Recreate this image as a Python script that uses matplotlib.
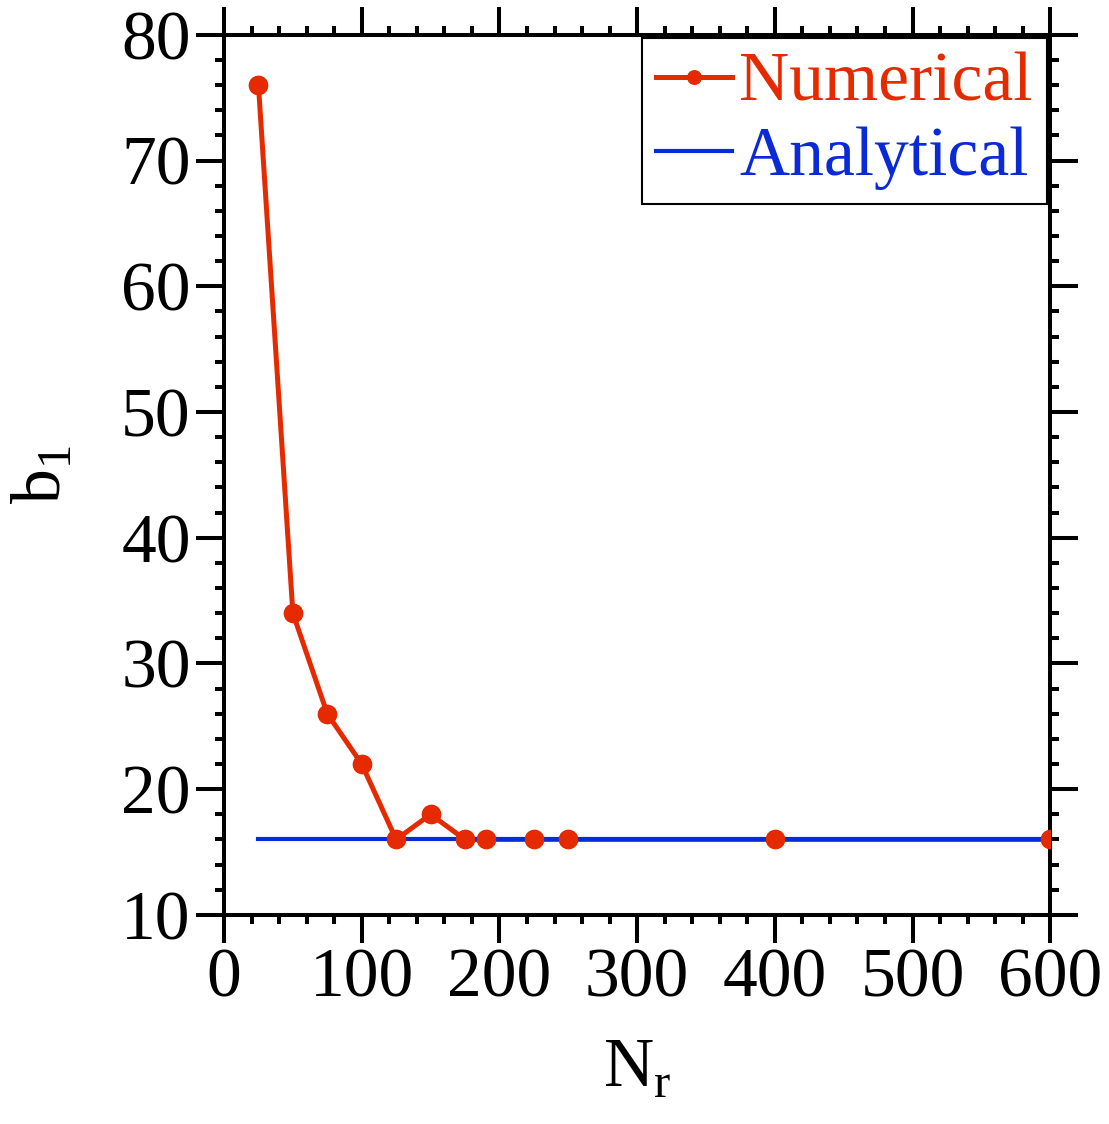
import numpy as np
import matplotlib
matplotlib.use("Agg")
import matplotlib.pyplot as plt
from matplotlib.ticker import MultipleLocator

# data
nr_num = [25, 50, 75, 100, 125, 150, 175, 190, 225, 250, 400, 600]
b1_num = [76, 34, 26, 22, 16, 18, 16, 16, 16, 16, 16, 16]
nr_ana = [25, 600]
b1_ana = [16, 16]

red = "#e62a00"
blue = "#0a2ad8"

plt.rcParams["font.family"] = ["Liberation Serif", "DejaVu Serif"]
plt.rcParams["mathtext.fontset"] = "custom"
plt.rcParams["mathtext.rm"] = "Liberation Serif"

fig = plt.figure(figsize=(11.09, 11.24), dpi=100)
ax = fig.add_axes([0.202, 0.186, 0.745, 0.783])

# red line under the blue one, red dots on top
ax.plot(nr_num, b1_num, color=red, lw=3.6, marker="o", ms=13, label="Numerical", zorder=2)
ax.plot(nr_ana, b1_ana, color=blue, lw=3, label="Analytical", zorder=3)
ax.plot(nr_num, b1_num, ls="none", color=red, marker="o", ms=13, zorder=4)

ax.set_xlim(0, 600)
ax.set_ylim(10, 80)
ax.xaxis.set_major_locator(MultipleLocator(100))
ax.xaxis.set_minor_locator(MultipleLocator(20))
ax.yaxis.set_major_locator(MultipleLocator(10))
ax.yaxis.set_minor_locator(MultipleLocator(2))

for s in ax.spines.values():
    s.set_linewidth(2.9)
ax.tick_params(which="both", direction="out", top=True, right=True, width=2.9)
ax.tick_params(which="major", length=20, labelsize=50, pad=4)
ax.tick_params(which="minor", length=6.5)

ax.set_xlabel(r"N$_\mathregular{r}$", fontsize=50, labelpad=19)
ax.set_ylabel(r"b$_\mathregular{1}$", fontsize=50, labelpad=33)

leg = ax.legend(loc="upper right", fontsize=50, frameon=True, fancybox=False,
                edgecolor="black", framealpha=1, handlelength=1.1, handletextpad=0.1,
                borderpad=0.2, borderaxespad=0.05, labelspacing=0.15, markerscale=0.75)
leg.get_frame().set_linewidth(1.5)
for txt, c in zip(leg.get_texts(), [red, blue]):
    txt.set_color(c)

fig.savefig("out.png", dpi=100)
